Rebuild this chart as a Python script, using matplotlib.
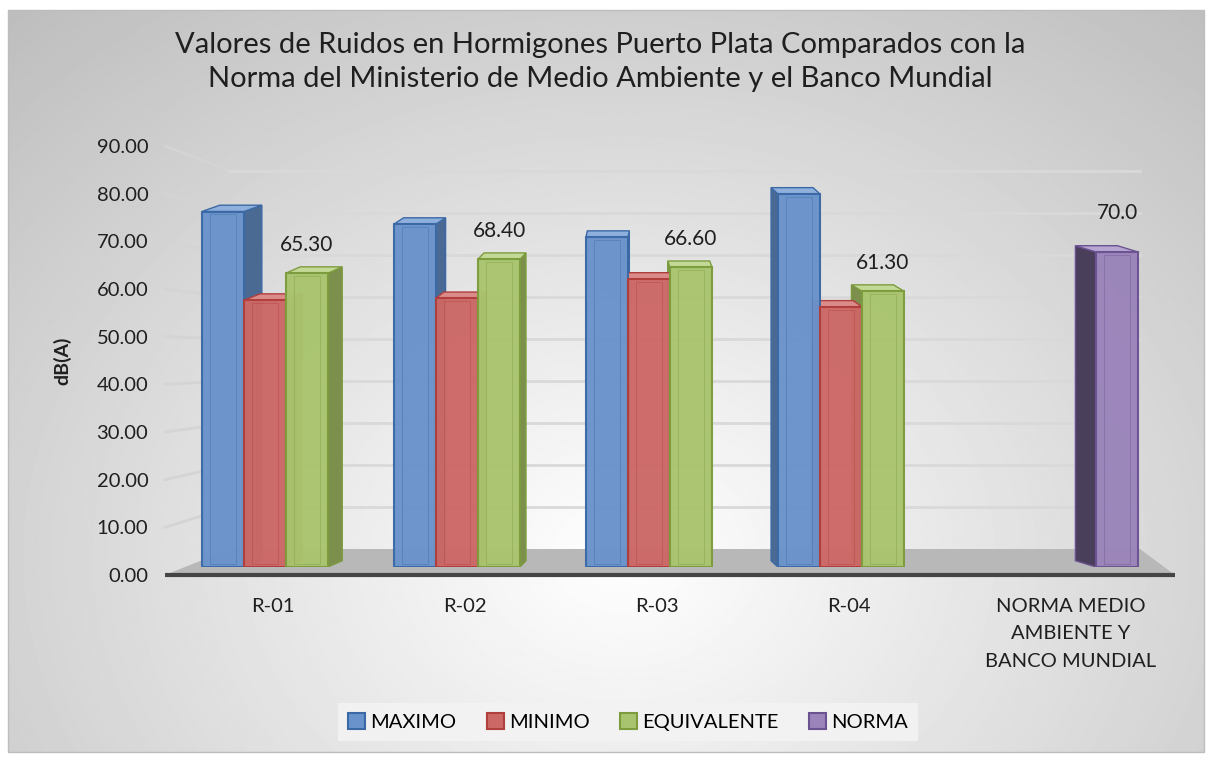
import numpy as np
import matplotlib
matplotlib.use('Agg')
import matplotlib.pyplot as plt
import matplotlib.transforms as mtransforms
from matplotlib.patches import Patch, Polygon, Rectangle

# ---------------- data ----------------
categories = ['R-01', 'R-02', 'R-03', 'R-04', 'NORMA MEDIO\nAMBIENTE Y\nBANCO MUNDIAL']
maximo = [79.0, 76.2, 73.3, 82.9, np.nan]
minimo = [59.3, 59.7, 64.0, 57.8, np.nan]
equivalente = [65.3, 68.4, 66.6, 61.3, np.nan]
norma = [np.nan, np.nan, np.nan, np.nan, 70.0]
series_names = ['MAXIMO', 'MINIMO', 'EQUIVALENTE', 'NORMA']
yticks = [0, 10, 20, 30, 40, 50, 60, 70, 80, 90]
title = ('Valores de Ruidos en Hormigones Puerto Plata Comparados con la\n'
         'Norma del Ministerio de Medio Ambiente y el Banco Mundial')
ylabel = 'dB(A)'

# ---------------- style ----------------
plt.rcParams['font.family'] = ['Lato', 'DejaVu Sans']
front_cols = ['#6A93CB', '#CC6866', '#A9C46E', '#9A84BA']
edge_cols = ['#3B69A6', '#B03E3C', '#7C9C3E', '#6B5290']
side_cols = ['#4A6A94', '#A44C4A', '#7C8F4C', '#4A3F5A']
top_cols = ['#8FB0DD', '#DB8C8A', '#C3D995', '#B7A6D2']
text_col = '#1f1f1f'

W, H = 1212, 760
fig = plt.figure(figsize=(W / 100, H / 100), dpi=100)
fig.patch.set_facecolor('white')

# background radial gradient (pixel coordinates)
bg = fig.add_axes([0, 0, 1, 1])
bg.set_axis_off()
bg.set_xlim(0, W)
bg.set_ylim(H, 0)
yy, xx = np.mgrid[0:H, 0:W]
r = np.sqrt(((xx - 620) / 720.0) ** 2 + ((yy - 560) / 580.0) ** 2)
val = 1 - 0.26 * np.clip(r, 0, 1.3) / 1.3
bg.imshow(val, cmap='gray', vmin=0, vmax=1, extent=[8, 1204, 752, 10],
          aspect='auto', interpolation='bilinear', zorder=0)
bg.add_patch(Rectangle((8, 10), 1196, 742, fill=False, ec='#bdbdbd', lw=1, zorder=1))

# 3D frame geometry (pixels): front edge scale, back wall scale
front_0, front_90 = 575, 146
back_0, back_90 = 549, 171
wall_left_front, wall_left_back = 165, 230
wall_right_back, floor_right_front = 1140, 1175


def front_y(v):
    return front_0 + (front_90 - front_0) * v / 90.0


def back_y(v):
    return back_0 + (back_90 - back_0) * v / 90.0


# floor
bg.add_patch(Polygon([(wall_left_front, front_0), (floor_right_front, front_0),
                      (wall_right_back, back_0), (wall_left_back, back_0)],
                     closed=True, fc='#b8b8b8', ec='none', zorder=2))
bg.plot([wall_left_front, floor_right_front], [front_0, front_0], color='#454545',
        lw=3, zorder=3, solid_capstyle='butt')
# gridlines on side wall and back wall
for v in yticks[1:]:
    bg.plot([wall_left_front, wall_left_back], [front_y(v), back_y(v)],
            color='#d4d4d4', lw=2, zorder=2)
    bg.plot([wall_left_back, wall_right_back], [back_y(v), back_y(v)],
            color='#d9d9d9', lw=2, zorder=2)

# axis for the value labels (front edge of the 3D frame)
ax_lab = fig.add_axes([wall_left_front / W, 1 - front_0 / H, 5 / W,
                       (front_0 - front_90) / H])
ax_lab.set_facecolor('none')
ax_lab.set_ylim(0, 90)
ax_lab.set_xticks([])
for s in ax_lab.spines.values():
    s.set_visible(False)
ax_lab.set_yticks(yticks)
ax_lab.set_yticklabels([f'{v:.2f}' for v in yticks], fontsize=14.5, color=text_col)
ax_lab.tick_params(axis='y', length=0, pad=12)
ax_lab.set_ylabel(ylabel, fontsize=14, fontweight='bold', color=text_col, labelpad=18)

# main (bar) axes
x_left_px, x_right_px = 170, 1175
y0_px, y90_px = 567, 162
ax = fig.add_axes([x_left_px / W, 1 - y0_px / H,
                   (x_right_px - x_left_px) / W, (y0_px - y90_px) / H])
ax.set_facecolor('none')
px_per_unit_x = 192.0
tick0_px = 273
ax.set_xlim((x_left_px - tick0_px) / px_per_unit_x, (x_right_px - tick0_px) / px_per_unit_x)
ax.set_ylim(0, 90)
for s in ax.spines.values():
    s.set_visible(False)
ax.set_yticks([])

xs = np.arange(len(categories))
w = 42 / px_per_unit_x
shift = 13 / px_per_unit_x

ax.set_xticks(xs)
ax.set_xticklabels(categories, fontsize=14.5, color=text_col, linespacing=1.75)
ax.tick_params(axis='x', length=0, pad=22)
# the last category label sits a bit further right in the reference
last = ax.get_xticklabels()[-1]
last.set_transform(last.get_transform() +
                   mtransforms.ScaledTranslation(30 / 100, 0, fig.dpi_scale_trans))

# 3D-ish bars
all_series = [maximo, minimo, equivalente, norma]
vanish_x = 1.9  # data units
depth_k = 0.043
dy = 1.4
for k, vals in enumerate(all_series):
    for i, v in enumerate(vals):
        if np.isnan(v):
            continue
        x0 = xs[i] + (k - 2) * w + shift
        x1 = x0 + w
        dx = (vanish_x - (x0 + x1) / 2) * depth_k
        if dx >= 0:
            side = [(x1, 0), (x1, v), (x1 + dx, v + dy), (x1 + dx, dy)]
        else:
            side = [(x0, 0), (x0, v), (x0 + dx, v + dy), (x0 + dx, dy)]
        ax.add_patch(Polygon(side, closed=True, fc=side_cols[k], ec=edge_cols[k],
                             lw=1, zorder=1 + 0.01 * k))
        top = [(x0, v), (x1, v), (x1 + dx, v + dy), (x0 + dx, v + dy)]
        ax.add_patch(Polygon(top, closed=True, fc=top_cols[k], ec=edge_cols[k],
                             lw=1, zorder=1.1 + 0.01 * k))

for k, vals in enumerate(all_series):
    idx = [i for i, v in enumerate(vals) if not np.isnan(v)]
    pos = [xs[i] + (k - 1.5) * w + shift for i in idx]
    hts = [vals[i] for i in idx]
    ax.bar(pos, hts, width=w, color=front_cols[k], edgecolor=edge_cols[k],
           linewidth=1.5, zorder=2, alpha=0.97)
    ax.bar(pos, [h - 1.2 for h in hts], bottom=0.6, width=w * 0.62,
           color='none', edgecolor=edge_cols[k], linewidth=0.6, zorder=2.1, alpha=0.45)

# data labels
for i, v in enumerate(equivalente):
    if np.isnan(v):
        continue
    xc = xs[i] + 0.5 * w + shift
    ax.annotate(f'{v:.2f}', (xc, v), xytext=(0, 13), textcoords='offset points',
                ha='center', va='bottom', fontsize=15, color=text_col, zorder=5)
for i, v in enumerate(norma):
    if np.isnan(v):
        continue
    xc = xs[i] + 1.5 * w + shift
    ax.annotate(f'{v:.1f}', (xc, v), xytext=(0, 21), textcoords='offset points',
                ha='center', va='bottom', fontsize=15, color=text_col, zorder=5)

# title
fig.text(0.495, 1 - 62 / H, title, ha='center', va='center', fontsize=21,
         color=text_col, linespacing=1.35)

# legend
handles = [Patch(facecolor=front_cols[k], edgecolor=edge_cols[k], linewidth=1.5,
                 label=series_names[k]) for k in range(4)]
leg = fig.legend(handles=handles, loc='center', bbox_to_anchor=(0.518, 1 - 722 / H),
                 ncol=4, fontsize=14.5, frameon=True, fancybox=False,
                 handlelength=0.85, handleheight=0.85, handletextpad=0.25,
                 columnspacing=1.5, borderpad=0.5)
leg.get_frame().set_facecolor('#f3f3f3')
leg.get_frame().set_edgecolor('none')
leg.get_frame().set_alpha(0.9)

fig.savefig('out.png', dpi=100)
